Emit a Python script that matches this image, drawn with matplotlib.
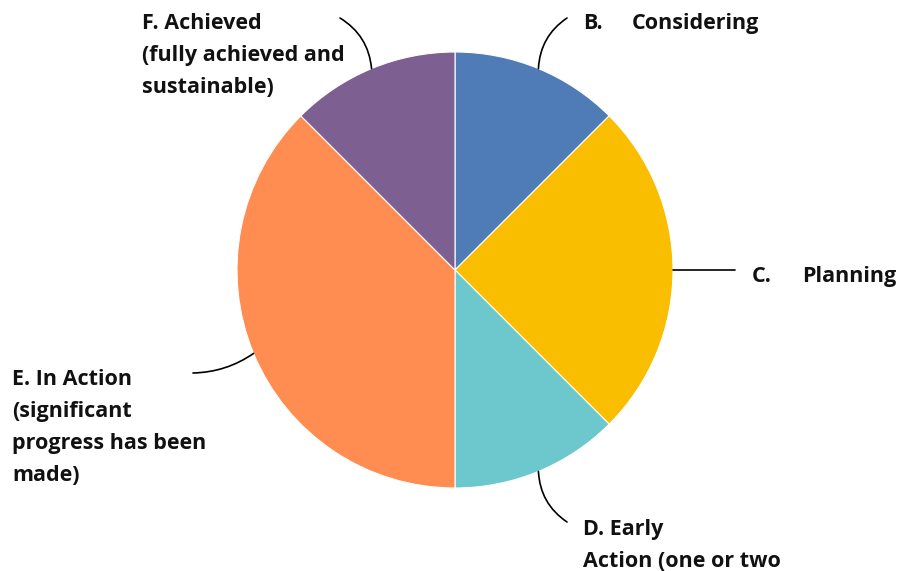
import numpy as np
import matplotlib.pyplot as plt

# ==================== data ====================
stages = ['B', 'C', 'D', 'E', 'F']
shares = [12.5, 25.0, 12.5, 37.5, 12.5]
colors = ['#4F7CB7', '#F9BE00', '#6CC8CD', '#FF8C50', '#7E5F92']
label_lines = [
    ['B.\tConsidering'],
    ['C.\tPlanning'],
    ['D. Early', 'Action (one or two'],
    ['E. In Action', '(significant', 'progress has been', 'made)'],
    ['F. Achieved', '(fully achieved and', 'sustainable)'],
]

# ==================== layout (pixels, y measured from top) ====================
W, H = 900, 571
CX, CY, R = 455, 270, 218
text_pos = [(583, 29), (752, 282), (583, 535), (12, 385), (142, 29)]
tab_gap = [49, 50, 0, 0, 0]
line_end = [(567, 18), (735, 270), (567, 522), (193, 373), (340, 18)]
line_rad = [0.25, 0.0, -0.25, 0.15, -0.25]
LINE_H = 32

FONT = ['Open Sans', 'DejaVu Sans']
FS = 15.5


def py(y):
    return H - y


fig = plt.figure(figsize=(W / 100, H / 100), dpi=100)
ax = fig.add_axes([0, 0, 1, 1])

wedges, _ = ax.pie(shares, colors=colors, startangle=90, counterclock=False,
                   center=(CX, py(CY)), radius=R, frame=True,
                   wedgeprops=dict(edgecolor='white', linewidth=0.8))
ax.set_xlim(0, W)
ax.set_ylim(0, H)
ax.set_aspect('equal')
ax.axis('off')

for i, w in enumerate(wedges):
    mid = np.deg2rad((w.theta1 + w.theta2) / 2)
    ex = CX + R * np.cos(mid)
    ey = py(CY) + R * np.sin(mid)
    lx, ly = line_end[i]
    ax.annotate('', xy=(ex, ey), xytext=(lx, py(ly)),
                arrowprops=dict(arrowstyle='-', color='black', lw=1.2,
                                shrinkA=0, shrinkB=0,
                                connectionstyle=f'arc3,rad={line_rad[i]}'))
    tx, ty = text_pos[i]
    for k, line in enumerate(label_lines[i]):
        y = py(ty + k * LINE_H)
        parts = line.split('\t')
        x = tx
        for j, part in enumerate(parts):
            ax.text(x, y, part, ha='left', va='baseline', fontsize=FS,
                    fontweight='bold', family=FONT, color='#111111')
            x += tab_gap[i]

fig.savefig('out.png', dpi=100, facecolor='white')
